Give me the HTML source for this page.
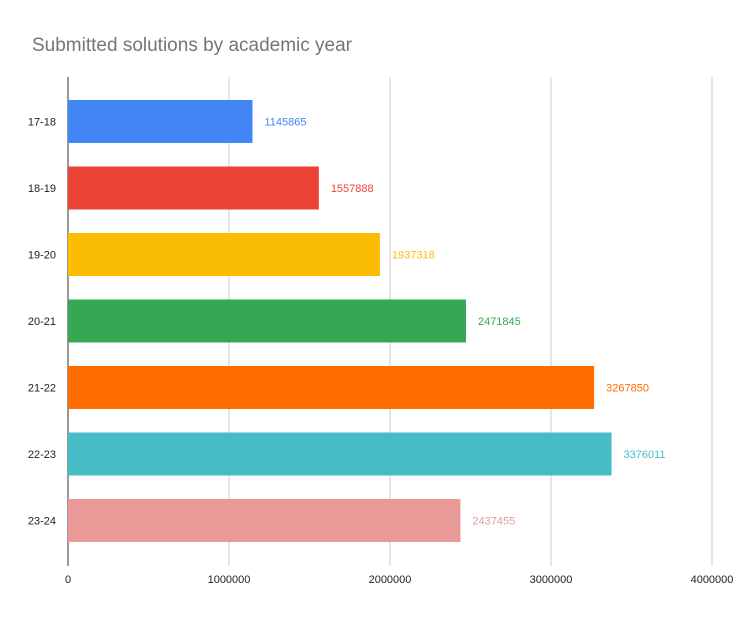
<!DOCTYPE html>
<html><head><meta charset="utf-8"><style>
html,body{margin:0;padding:0;background:#fff;}
svg{display:block;font-family:"Liberation Sans",Roboto,sans-serif;}
</style></head><body>
<svg id="chart" width="743" height="618" viewBox="0 0 743 618">
<rect width="743" height="618" fill="#fff"/>
<text x="32" y="51" font-size="19" fill="#757575">Submitted solutions by academic year</text>
<g id="grid"></g><g id="bars"></g><g id="labels"></g>
</svg>
<script>
const categories = ["17-18","18-19","19-20","20-21","21-22","22-23","23-24"];
const values = [1145865,1557888,1937318,2471845,3267850,3376011,2437455];
const colors = ["#4285f4","#ea4335","#fbbc04","#34a853","#ff6d01","#46bdc6","#ea9999"];
const xTicks = [0,1000000,2000000,3000000,4000000];

const NS="http://www.w3.org/2000/svg";
const x0=68, x1=712, xMax=4000000;
const plotTop=88.25, band=66.5, barH=43;
const gridTop=77, gridBottom=566;
function xs(v){return x0+(v/xMax)*(x1-x0);}
function yc(i){return plotTop+band*i+band/2;}
function mk(tag,attrs,parent){const e=document.createElementNS(NS,tag);for(const k in attrs)e.setAttribute(k,attrs[k]);parent.appendChild(e);return e;}
const grid=document.getElementById('grid'), bars=document.getElementById('bars'), labels=document.getElementById('labels');

xTicks.forEach((t,i)=>{
  if(i>0){
    const l=mk('line',{x1:xs(t),x2:xs(t),y1:gridTop,y2:gridBottom,stroke:'#cccccc','stroke-width':1},grid);
    
    
  }
  const tx=mk('text',{x:xs(t),y:583,'font-size':11,fill:'#222','text-anchor':'middle'},labels);
  tx.textContent=String(t);
  
  
});

categories.forEach((c,i)=>{
  const y=yc(i);
  const r=mk('rect',{x:x0,y:y-barH/2,width:xs(values[i])-x0,height:barH,fill:colors[i]},bars);
  
  
  const cl=mk('text',{x:56,y:y+4,'font-size':11,fill:'#222','text-anchor':'end'},labels);
  cl.textContent=c;
  
  
  const vl=mk('text',{x:xs(values[i])+12,y:y+4,'font-size':11,fill:colors[i]},labels);
  vl.textContent=String(values[i]);
  
  
});

const ax=mk('line',{x1:x0,x2:x0,y1:gridTop,y2:gridBottom,stroke:'#333','stroke-width':1},grid);


</script>
</body></html>
